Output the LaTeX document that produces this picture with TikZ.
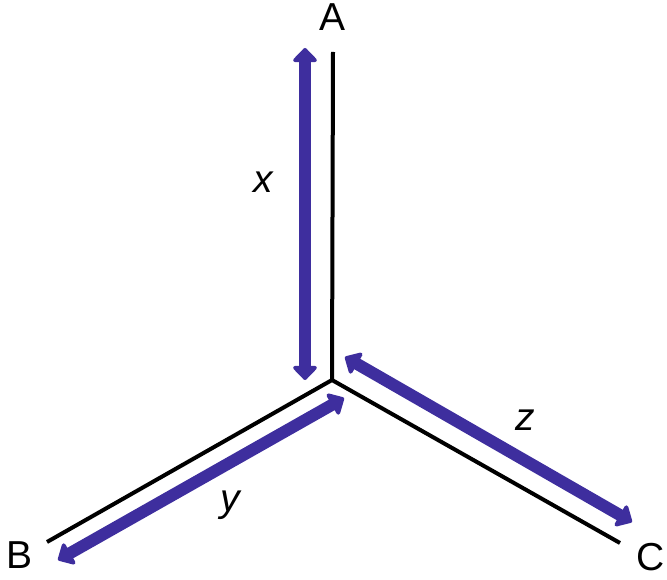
\documentclass[tikz,border=0pt]{standalone}
\usepackage{fontspec}
\setmainfont{Liberation Sans}
\usetikzlibrary{arrows.meta}
\definecolor{arrowblue}{RGB}{62,46,158}

\begin{document}
\begin{tikzpicture}[x=1pt,y=-1pt]
    \tikzstyle{axis}=[draw=black,line width=4pt]
    \tikzstyle{dist}=[draw=arrowblue,line width=12pt,{Triangle[width=28pt,length=15pt,round]}-{Triangle[width=28pt,length=15pt,round]}]
    \tikzstyle{corner}=[font=\fontsize{39}{43}\selectfont]
    \tikzstyle{var}=[font=\fontsize{39}{43}\selectfont\itshape]
    \useasboundingbox (0,0) rectangle (667,580);
    % the three legs
    \coordinate (O) at (332,380);
    \coordinate (Aend) at (333,52);
    \coordinate (Bend) at (47,542);
    \coordinate (Cend) at (620,543);
    \draw[axis] (Aend) -- (O) -- (Bend);
    \draw[axis] (O) -- (Cend);
    \node[corner] (A) at (333,17) {A};
    \node[corner] (B) at (20,555) {B};
    \node[corner] (C) at (651,557) {C};
    % distances
    \coordinate (xtop) at (305,48);
    \coordinate (xbot) at (305,380);
    \coordinate (ytop) at (344,398);
    \coordinate (ybot) at (58,560);
    \coordinate (ztop) at (345,357);
    \coordinate (zbot) at (632,522);
    \draw[dist] (xtop) -- (xbot);
    \draw[dist] (ytop) -- (ybot);
    \draw[dist] (ztop) -- (zbot);
    \node[var] (x) at (263,182) {x};
    \node[var] (y) at (230,505) {y};
    \node[var] (z) at (525,420) {z};
\end{tikzpicture}
\end{document}
